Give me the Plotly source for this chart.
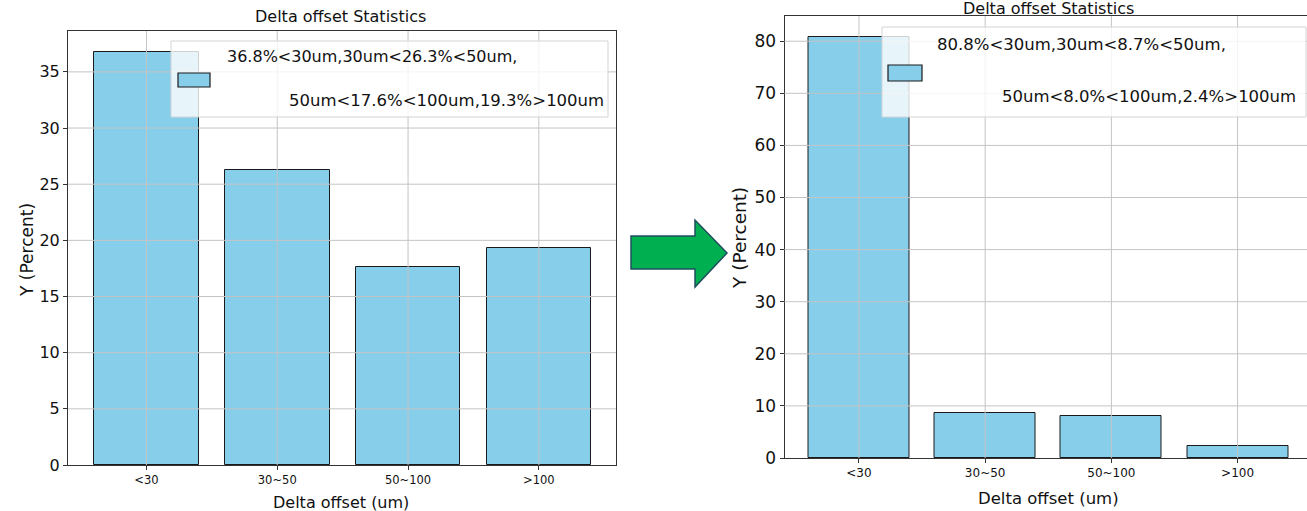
import plotly.graph_objects as go

W, H = 1307, 511

categories = ["<30", "30~50", "50~100", ">100"]
before_values = [36.8, 26.3, 17.6, 19.3]
after_values = [80.8, 8.7, 8.0, 2.4]
before_yticks = [0, 5, 10, 15, 20, 25, 30, 35]
after_yticks = [0, 10, 20, 30, 40, 50, 60, 70, 80]
title_text = "Delta offset Statistics"
xlabel_text = "Delta offset (um)"
ylabel_text = "Y (Percent)"
before_legend = ["36.8%<30um,30um<26.3%<50um,", "50um<17.6%<100um,19.3%>100um"]
after_legend = ["80.8%<30um,30um<8.7%<50um,", "50um<8.0%<100um,2.4%>100um"]

BAR = "#87CEEB"
GRID = "#c4c4c4"
FONT = "DejaVu Sans"


def px(x):
    return x / W


def py(y):
    return 1 - y / H


fig = go.Figure()
fig.add_trace(go.Bar(x=categories, y=before_values, width=0.8, xaxis="x", yaxis="y",
                     marker=dict(color=BAR, line=dict(color="#1a1a1a", width=1)), showlegend=False,
                     hoverinfo="skip"))
fig.add_trace(go.Bar(x=categories, y=after_values, width=0.8, xaxis="x2", yaxis="y2",
                     marker=dict(color=BAR, line=dict(color="#1a1a1a", width=1)), showlegend=False,
                     hoverinfo="skip"))

axis_common = dict(showgrid=False, zeroline=False, showline=True, linecolor="#333",
                   linewidth=1, ticks="outside", ticklen=4, tickcolor="#333",
                   automargin=False, fixedrange=True)

fig.update_layout(
    width=W, height=H, margin=dict(l=0, r=0, t=0, b=0, pad=0), autosize=False,
    paper_bgcolor="white", plot_bgcolor="white",
    font=dict(family=FONT, color="#111"),
    bargap=0,
    xaxis=dict(domain=[px(68), px(616)], range=[-0.6, 3.59], anchor="y", mirror=True,
               tickfont=dict(size=11.5), **axis_common),
    yaxis=dict(domain=[py(465), py(31)], range=[0, 38.64], anchor="x", mirror=True,
               tickvals=before_yticks, tickfont=dict(size=16), **axis_common),
    xaxis2=dict(domain=[px(784.5), 1], range=[-0.59, 3.55], anchor="y2", mirror=True,
                tickfont=dict(size=12), **axis_common),
    yaxis2=dict(domain=[py(458), py(16)], range=[0, 84.84], anchor="x2", mirror=False,
                tickvals=after_yticks, tickfont=dict(size=17), **axis_common),
)

shapes = []
# grid lines drawn above bars (as in the reference)
for v in before_yticks[1:]:
    shapes.append(dict(type="line", xref="x domain", yref="y", x0=0, x1=1, y0=v, y1=v,
                       line=dict(color=GRID, width=1), layer="above"))
for c in categories:
    shapes.append(dict(type="line", xref="x", yref="y domain", x0=c, x1=c, y0=0, y1=1,
                       line=dict(color=GRID, width=1), layer="above"))
for v in after_yticks[1:]:
    shapes.append(dict(type="line", xref="x2 domain", yref="y2", x0=0, x1=1, y0=v, y1=v,
                       line=dict(color=GRID, width=1), layer="above"))
for c in categories:
    shapes.append(dict(type="line", xref="x2", yref="y2 domain", x0=c, x1=c, y0=0, y1=1,
                       line=dict(color=GRID, width=1), layer="above"))


def legend_box(x0, y0, x1, y1, pxx0, pyy0, pxx1, pyy1):
    shapes.append(dict(type="rect", xref="paper", yref="paper", x0=px(x0), x1=px(x1),
                       y0=py(y1), y1=py(y0), fillcolor="rgba(255,255,255,0.8)",
                       line=dict(color="#d4d4d4", width=1), layer="above"))
    shapes.append(dict(type="rect", xref="paper", yref="paper", x0=px(pxx0), x1=px(pxx1),
                       y0=py(pyy1), y1=py(pyy0), fillcolor=BAR,
                       line=dict(color="#1a1a1a", width=1.2), layer="above"))


legend_box(171, 41, 608, 117, 178, 73, 210, 87)
legend_box(882, 27, 1306, 117, 888, 65, 922, 81)

# green arrow
pts = [(631, 236), (695, 236), (695, 220), (727, 253), (695, 287), (695, 269), (631, 269)]
path = "M " + " L ".join(f"{px(a):.5f},{py(b):.5f}" for a, b in pts) + " Z"
shapes.append(dict(type="path", xref="paper", yref="paper", path=path,
                   fillcolor="#00B050", line=dict(color="#1F4E5F", width=1.5), layer="above"))

fig.update_layout(shapes=shapes)

ann = []


def text(x, y, s, size, xanchor="center", angle=0):
    ann.append(dict(x=px(x), y=py(y), xref="paper", yref="paper", text=s, showarrow=False,
                    xanchor=xanchor, yanchor="middle", textangle=angle,
                    font=dict(size=size, family=FONT, color="#111")))


text(341, 17, title_text, 16)
text(1048, 8, title_text, 16)
text(341, 502, xlabel_text, 16)
text(1048, 498, xlabel_text, 16.5)
text(27, 250, ylabel_text, 17, angle=-90)
text(739, 238, ylabel_text, 18.5, angle=-90)
text(225, 57, before_legend[0], 16, xanchor="left")
text(606, 101, before_legend[1], 16.5, xanchor="right")
text(935, 45, after_legend[0], 16.5, xanchor="left")
text(1298, 96, after_legend[1], 16.5, xanchor="right")

fig.update_layout(annotations=ann)

fig.write_html("out.html", config={"displayModeBar": False},
               post_script="document.body.style.margin='0';document.body.style.overflow='hidden';")
